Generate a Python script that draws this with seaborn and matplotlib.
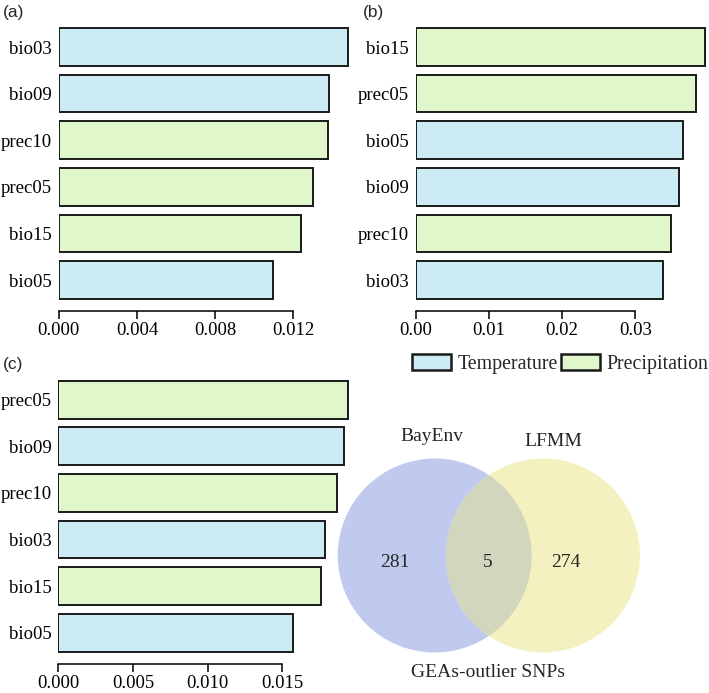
import matplotlib
matplotlib.use('Agg')
import matplotlib.pyplot as plt
from matplotlib.patches import Patch, Circle
import seaborn as sns
import pandas as pd

# Variable importance per panel
a_vars = ['bio03', 'bio09', 'prec10', 'prec05', 'bio15', 'bio05']
a_vals = [0.01481, 0.01383, 0.01379, 0.01302, 0.01241, 0.01096]
b_vars = ['bio15', 'prec05', 'bio05', 'bio09', 'prec10', 'bio03']
b_vals = [0.03952, 0.03825, 0.03656, 0.03601, 0.03488, 0.03374]
c_vars = ['prec05', 'bio09', 'prec10', 'bio03', 'bio15', 'bio05']
c_vals = [0.01940, 0.01913, 0.01870, 0.01788, 0.01759, 0.01575]

# variable group (bio15 = precipitation seasonality)
var_type = {'bio03': 'Temperature', 'bio05': 'Temperature', 'bio09': 'Temperature',
            'bio15': 'Precipitation', 'prec05': 'Precipitation', 'prec10': 'Precipitation'}

# Venn counts
venn_sets = ['BayEnv', 'LFMM']
venn_counts = [281, 5, 274]  # BayEnv only, shared, LFMM only
venn_title = 'GEAs-outlier SNPs'

palette = {'Temperature': '#CDEBF4', 'Precipitation': '#E0F7CC'}

sns.set_style('ticks')
plt.rcParams['font.family'] = ['Liberation Serif', 'DejaVu Serif']
plt.rcParams['font.size'] = 13.5

W, H = 709, 693
fig = plt.figure(figsize=(W / 100, H / 100), dpi=100)


def px_axes(left, top, right, bottom):
    return fig.add_axes([left / W, 1 - bottom / H, (right - left) / W, (bottom - top) / H])


def bar_panel(ax, names, vals, xmax, ticks, fmt):
    df = pd.DataFrame({'var': names, 'value': vals})
    df['type'] = [var_type[n] for n in names]
    sns.barplot(data=df, x='value', y='var', hue='type', palette=palette,
                dodge=False, width=0.81, saturation=1, edgecolor='#1a1a1a',
                linewidth=1.4, legend=False, ax=ax)
    ax.set_xlim(0, xmax)
    ax.set_xticks(ticks)
    ax.set_xticklabels([fmt.format(t) for t in ticks])
    ax.set_xlabel('')
    ax.set_ylabel('')
    ax.tick_params(axis='y', length=0, pad=5, labelsize=13.5, colors='black')
    ax.tick_params(axis='x', length=5.5, width=1.1, pad=2.5, labelsize=13.5, colors='black')
    ax.spines['bottom'].set_linewidth(1.1)
    ax.spines['bottom'].set_color('black')
    sns.despine(ax=ax, left=True, offset=5.5, trim=True)


ax_a = px_axes(58.7, 23.7, 350, 303.3)
bar_panel(ax_a, a_vars, a_vals, 0.0149, [0, 0.004, 0.008, 0.012], '{:.3f}')

ax_b = px_axes(415.7, 23.7, 707, 303.3)
bar_panel(ax_b, b_vars, b_vals, 0.0398, [0, 0.01, 0.02, 0.03], '{:.2f}')

ax_c = px_axes(58.3, 376.4, 350, 656)
bar_panel(ax_c, c_vars, c_vals, 0.01955, [0, 0.005, 0.010, 0.015], '{:.3f}')

# panel letters
for lab, x, y in [('(a)', 3, 12), ('(b)', 363, 12), ('(c)', 3, 365)]:
    fig.text(x / W, 1 - y / H, lab, family='Liberation Sans', fontsize=12.5, va='center')

# legend
handles = [Patch(facecolor=palette[k], edgecolor='#1a1a1a', linewidth=1.8) for k in palette]
fig.legend(handles, list(palette.keys()), ncol=2, loc='center',
           bbox_to_anchor=(560 / W, 1 - 364 / H), frameon=False,
           handlelength=2.0, handleheight=0.85, handletextpad=0.3,
           columnspacing=0.15, borderpad=0, fontsize=14.3)

# Venn diagram
ax_v = px_axes(300, 420, 680, 693)
ax_v.set_xlim(-1.947, 1.971)
ax_v.set_ylim(-1.4175, 1.397)
ax_v.axis('off')
d = 0.558
left = Circle((-d, 0), 1, facecolor='#BFCAEE', edgecolor='none')
right = Circle((d, 0), 1, facecolor='#F4F1C1', edgecolor='none')
ax_v.add_patch(left)
ax_v.add_patch(right)
lens = Circle((-d, 0), 1, facecolor='#D1D6BD', edgecolor='none')
ax_v.add_patch(lens)
lens.set_clip_path(right)

ax_v.text(-0.589, 1.225, venn_sets[0], ha='center', va='center', fontsize=14)
ax_v.text(0.661, 1.173, venn_sets[1], ha='center', va='center', fontsize=14)
for x, n in zip([-0.968, -0.016, 0.792], venn_counts):
    ax_v.text(x, -0.07, str(n), ha='center', va='center', fontsize=14)
ax_v.text(-0.009, -1.211, venn_title, ha='center', va='center', fontsize=14)

fig.savefig('out.png', dpi=100)
